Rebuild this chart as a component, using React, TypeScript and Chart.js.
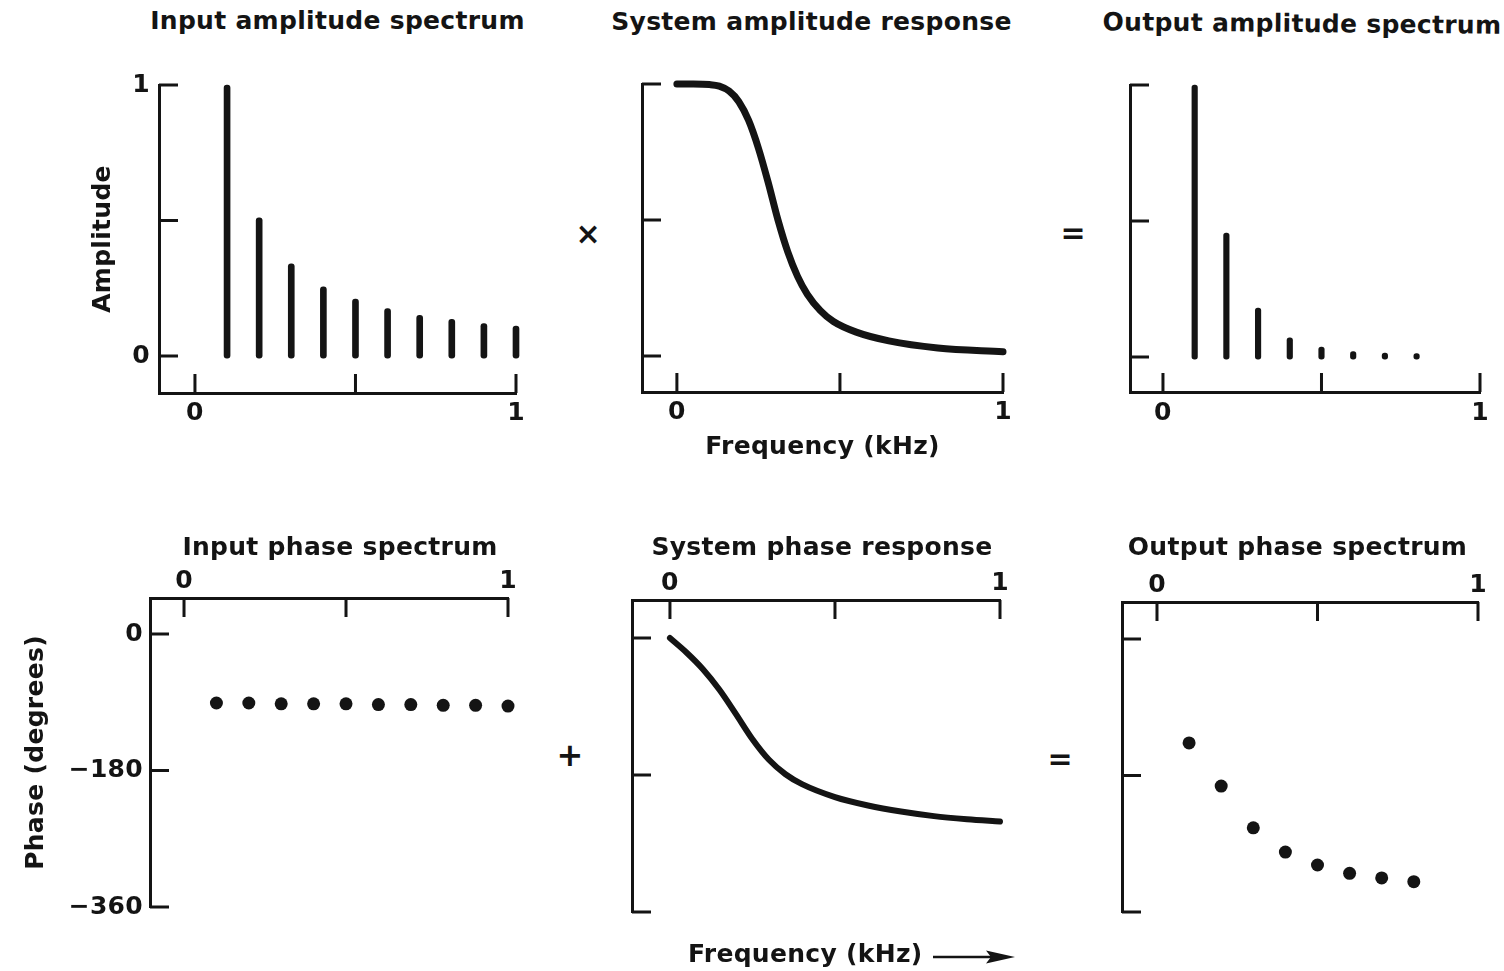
import { useEffect, useRef } from 'react';
import { Chart, registerables } from 'chart.js';

Chart.register(...registerables);

const INK = '#141414';
const FONT = '"DejaVu Sans", sans-serif';
const WEIGHT = 'bold';
const TEXT_PX = 25;
const TRACKING = '0.3px';
const TICK_LEN = 19;

// ---------- data ----------
// Harmonic frequencies (kHz) of the input signal
const HARMONIC_FREQS_KHZ = [0.1, 0.2, 0.3, 0.4, 0.5, 0.6, 0.7, 0.8, 0.9, 1.0];
const INPUT_AMPLITUDE = [1.0, 0.51, 0.34, 0.255, 0.21, 0.175, 0.15, 0.135, 0.12, 0.11];
const INPUT_PHASE_DEG = [-91, -91, -92, -92, -92, -93, -93, -94, -94, -95];

// Harmonics that survive at the output
const OUTPUT_FREQS_KHZ = [0.1, 0.2, 0.3, 0.4, 0.5, 0.6, 0.7, 0.8];
const OUTPUT_AMPLITUDE = [1.0, 0.455, 0.18, 0.07, 0.036, 0.02, 0.014, 0.012];
const OUTPUT_PHASE_DEG = [-137, -194, -249, -281, -298, -309, -315, -320];

// Low-pass system: amplitude response
const AMP_RESPONSE_FREQS_KHZ = [0, 0.05, 0.1, 0.13, 0.16, 0.19, 0.22, 0.25, 0.28, 0.31, 0.34, 0.37, 0.4, 0.44, 0.48, 0.55, 0.65, 0.8, 1.0];
const SYSTEM_AMPLITUDE = [1, 1, 0.998, 0.992, 0.974, 0.935, 0.866, 0.764, 0.638, 0.5, 0.383, 0.293, 0.227, 0.167, 0.127, 0.088, 0.056, 0.03, 0.016];

// Low-pass system: phase response
const PHASE_RESPONSE_FREQS_KHZ = [0, 0.05, 0.1, 0.15, 0.2, 0.25, 0.3, 0.35, 0.4, 0.5, 0.6, 0.7, 0.8, 0.9, 1.0];
const SYSTEM_PHASE_DEG = [0, -19, -41, -68, -100, -133, -160, -179, -192, -209, -220, -228, -234, -238, -241];

// Tick values and labels
const FREQ_TICKS = [0, 0.5, 1];
const FREQ_TICK_LABELS = ['0', '', '1'];
const AMP_TICKS = [0, 0.5, 1];
const AMP_TICK_LABELS = ['0', '', '1'];
const PHASE_TICKS = [0, -180, -360];
const PHASE_TICK_LABELS = ['0', '\u2212180', '\u2212360'];
const BLANK_LABELS = ['', '', ''];

// ---------- layout helpers ----------
type Geo = { l: number; t: number; r: number; b: number; yW: number; xH: number; xTop: boolean };
const PAD = { left: 4, right: 20, top: 30, bottom: 30 };

function canvasBox(g: Geo) {
  const left = g.l - g.yW - PAD.left;
  const top = g.xTop ? g.t - g.xH - PAD.top : g.t - PAD.top;
  const right = g.r + PAD.right;
  const bottom = g.xTop ? g.b + PAD.bottom : g.b + g.xH + PAD.bottom;
  return { left, top, width: right - left, height: bottom - top };
}

type AxisSpec = {
  position: 'left' | 'bottom' | 'top';
  min: number;
  max: number;
  ticks: number[];
  labels: string[];
  size: number;
  pad: number;
  title?: string;
};

const canvasFont = { family: FONT, size: TEXT_PX, weight: WEIGHT, lineHeight: 1.2 };

function axisScale(a: AxisSpec) {
  const horizontal = a.position !== 'left';
  return {
    type: 'linear',
    position: a.position,
    min: a.min,
    max: a.max,
    offset: false,
    grid: { display: false, drawTicks: false, offset: false },
    border: { display: true, color: INK, width: 3 },
    ticks: {
      autoSkip: false,
      maxRotation: 0,
      minRotation: 0,
      padding: a.pad,
      color: INK,
      font: canvasFont,
      callback: (_v: number, i: number) => a.labels[i] ?? '',
    },
    title: a.title
      ? { display: true, text: a.title, color: INK, padding: 0, font: canvasFont }
      : { display: false },
    afterBuildTicks: (s: any) => {
      s.ticks = a.ticks.map((value) => ({ value }));
    },
    afterFit: (s: any) => {
      if (horizontal) s.height = a.size;
      else s.width = a.size;
    },
  };
}

// Tick marks that point into the plot, drawn on the scales' own tick values
const inwardTicks = {
  id: 'inwardTicks',
  beforeDatasetsDraw(chart: any) {
    const { ctx, chartArea: a } = chart;
    const xs = chart.scales.x;
    const ys = chart.scales.y;
    const atTop = xs.options.position === 'top';
    ctx.save();
    ctx.strokeStyle = INK;
    ctx.lineWidth = 3;
    ctx.lineCap = 'butt';
    ctx.beginPath();
    for (const t of xs.ticks) {
      const p = xs.getPixelForValue(t.value);
      const y0 = atTop ? a.top : a.bottom;
      ctx.moveTo(p, y0);
      ctx.lineTo(p, y0 + (atTop ? TICK_LEN : -TICK_LEN));
    }
    for (const t of ys.ticks) {
      const p = ys.getPixelForValue(t.value);
      ctx.moveTo(a.left, p);
      ctx.lineTo(a.left + TICK_LEN, p);
    }
    ctx.stroke();
    ctx.restore();
  },
};

// Same tracking for the canvas text as for the captions
const trackedText = {
  id: 'trackedText',
  beforeDraw(chart: any) {
    chart.ctx.letterSpacing = TRACKING;
  },
};

function makeConfig(type: string, datasets: any[], x: AxisSpec, y: AxisSpec) {
  return {
    type,
    data: { datasets },
    options: {
      responsive: false,
      animation: false,
      devicePixelRatio: 1,
      events: [],
      layout: { padding: PAD },
      plugins: { legend: { display: false }, tooltip: { enabled: false }, title: { display: false } },
      scales: { x: axisScale(x), y: axisScale(y) },
    },
    plugins: [inwardTicks, trackedText],
  };
}

function pairs(xs: number[], ys: number[]) {
  return xs.map((x, i) => ({ x, y: ys[i] }));
}

function stems(xs: number[], ys: number[], thickness: number) {
  return {
    data: pairs(xs, ys),
    backgroundColor: INK,
    borderWidth: 0,
    barThickness: thickness,
    borderRadius: thickness / 2,
    borderSkipped: false,
    base: -0.008,
    clip: false,
  };
}

function curve(xs: number[], ys: number[], width: number) {
  return {
    data: pairs(xs, ys),
    borderColor: INK,
    borderWidth: width,
    borderCapStyle: 'round',
    borderJoinStyle: 'round',
    cubicInterpolationMode: 'monotone',
    pointRadius: 0,
    fill: false,
    clip: false,
  };
}

function dots(xs: number[], ys: number[]) {
  return {
    data: pairs(xs, ys),
    backgroundColor: INK,
    borderWidth: 0,
    pointRadius: 6.5,
    showLine: false,
    clip: false,
  };
}

// ---------- panels ----------
type PanelDef = { geo: Geo; build: () => any };

const PANELS: PanelDef[] = [
  {
    geo: { l: 159, t: 85, r: 516, b: 393, yW: 71, xH: 40, xTop: false },
    build: () =>
      makeConfig(
        'bar',
        [stems(HARMONIC_FREQS_KHZ, INPUT_AMPLITUDE, 6)],
        { position: 'bottom', min: -0.112, max: 1, ticks: FREQ_TICKS, labels: FREQ_TICK_LABELS, size: 40, pad: 5 },
        { position: 'left', min: -0.1365, max: 1, ticks: AMP_TICKS, labels: AMP_TICK_LABELS, size: 71, pad: 9, title: 'Amplitude' },
      ),
  },
  {
    geo: { l: 642, t: 84, r: 1003, b: 392, yW: 10, xH: 70, xTop: false },
    build: () =>
      makeConfig(
        'line',
        [curve(AMP_RESPONSE_FREQS_KHZ, SYSTEM_AMPLITUDE, 7)],
        { position: 'bottom', min: -0.107, max: 1, ticks: FREQ_TICKS, labels: FREQ_TICK_LABELS, size: 70, pad: 5, title: 'Frequency (kHz)' },
        { position: 'left', min: -0.132, max: 1, ticks: AMP_TICKS, labels: BLANK_LABELS, size: 10, pad: 4 },
      ),
  },
  {
    geo: { l: 1130, t: 85, r: 1480, b: 392, yW: 10, xH: 40, xTop: false },
    build: () =>
      makeConfig(
        'bar',
        [stems(OUTPUT_FREQS_KHZ, OUTPUT_AMPLITUDE, 5.5)],
        { position: 'bottom', min: -0.104, max: 1, ticks: FREQ_TICKS, labels: FREQ_TICK_LABELS, size: 40, pad: 6 },
        { position: 'left', min: -0.129, max: 1, ticks: AMP_TICKS, labels: BLANK_LABELS, size: 10, pad: 4 },
      ),
  },
  {
    geo: { l: 150, t: 598, r: 508, b: 907, yW: 129, xH: 36, xTop: true },
    build: () =>
      makeConfig(
        'scatter',
        [dots(HARMONIC_FREQS_KHZ, INPUT_PHASE_DEG)],
        { position: 'top', min: -0.105, max: 1, ticks: FREQ_TICKS, labels: FREQ_TICK_LABELS, size: 36, pad: 2 },
        { position: 'left', min: -360, max: 47.5, ticks: PHASE_TICKS, labels: PHASE_TICK_LABELS, size: 129, pad: 7, title: 'Phase (degrees)' },
      ),
  },
  {
    geo: { l: 632, t: 600, r: 1000, b: 912, yW: 10, xH: 36, xTop: true },
    build: () =>
      makeConfig(
        'line',
        [curve(PHASE_RESPONSE_FREQS_KHZ, SYSTEM_PHASE_DEG, 6)],
        { position: 'top', min: -0.115, max: 1, ticks: FREQ_TICKS, labels: FREQ_TICK_LABELS, size: 36, pad: 2 },
        { position: 'left', min: -360, max: 50, ticks: PHASE_TICKS, labels: BLANK_LABELS, size: 10, pad: 4 },
      ),
  },
  {
    geo: { l: 1122, t: 602, r: 1478, b: 912, yW: 10, xH: 36, xTop: true },
    build: () =>
      makeConfig(
        'scatter',
        [dots(OUTPUT_FREQS_KHZ, OUTPUT_PHASE_DEG)],
        { position: 'top', min: -0.109, max: 1, ticks: FREQ_TICKS, labels: FREQ_TICK_LABELS, size: 36, pad: 2 },
        { position: 'left', min: -360, max: 48.8, ticks: PHASE_TICKS, labels: BLANK_LABELS, size: 10, pad: 4 },
      ),
  },
];

function PlotPanel({ def }: { def: PanelDef }) {
  const ref = useRef<HTMLCanvasElement>(null);
  const box = canvasBox(def.geo);
  useEffect(() => {
    const chart = new Chart(ref.current as HTMLCanvasElement, def.build());
    return () => chart.destroy();
  }, [def]);
  return (
    <canvas
      ref={ref}
      width={box.width}
      height={box.height}
      style={{ position: 'absolute', left: box.left, top: box.top, width: box.width, height: box.height }}
    />
  );
}

// Distance from the top of a one-line box (line-height = font size) to the baseline
const BASELINE_OFFSET = TEXT_PX * 0.846;

const textStyle = {
  fontFamily: FONT,
  fontWeight: WEIGHT,
  fontSize: TEXT_PX,
  lineHeight: `${TEXT_PX}px`,
  letterSpacing: TRACKING,
  color: INK,
  whiteSpace: 'nowrap' as const,
};

function Caption({ text, cx, baseline, rotate }: { text: string; cx: number; baseline: number; rotate?: number }) {
  return (
    <div
      style={{
        ...textStyle,
        position: 'absolute',
        left: cx - 300,
        top: baseline - BASELINE_OFFSET,
        width: 600,
        textAlign: 'center',
        transform: rotate ? `rotate(${rotate}deg)` : undefined,
      }}
    >
      {text}
    </div>
  );
}

function Operator({ symbol, cx, cy, size }: { symbol: string; cx: number; cy: number; size: number }) {
  return (
    <div
      style={{
        position: 'absolute',
        left: cx - 40,
        top: cy - 40,
        width: 80,
        height: 80,
        display: 'flex',
        alignItems: 'center',
        justifyContent: 'center',
        fontFamily: FONT,
        fontWeight: WEIGHT,
        fontSize: size,
        lineHeight: 1,
        color: INK,
      }}
    >
      {symbol}
    </div>
  );
}

export default function App() {
  return (
    <div style={{ position: 'absolute', left: 0, top: 0, width: 1504, height: 971, background: '#fff', overflow: 'hidden' }}>
      {PANELS.map((p, i) => (
        <PlotPanel key={i} def={p} />
      ))}

      <Caption text="Input amplitude spectrum" cx={337.5} baseline={29} />
      <Caption text="System amplitude response" cx={811.5} baseline={30.5} />
      <Caption text="Output amplitude spectrum" cx={1302} baseline={32} rotate={0.5} />
      <Caption text="Input phase spectrum" cx={340} baseline={555} />
      <Caption text="System phase response" cx={822} baseline={555} />
      <Caption text="Output phase spectrum" cx={1297.5} baseline={555} />

      <Operator symbol={'\u00d7'} cx={588} cy={234} size={30} />
      <Operator symbol="=" cx={1073} cy={233} size={30} />
      <Operator symbol="+" cx={570} cy={755} size={32} />
      <Operator symbol="=" cx={1060} cy={759} size={30} />

      <div style={{ ...textStyle, position: 'absolute', left: 688, top: 962 - BASELINE_OFFSET }}>Frequency (kHz)</div>
      <svg style={{ position: 'absolute', left: 930, top: 948 }} width={90} height={18}>
        <line x1={3} y1={9} x2={62} y2={9} stroke={INK} strokeWidth={2.6} />
        <polygon points="56,2.5 85,9 56,15.5 61,9" fill={INK} />
      </svg>
    </div>
  );
}
